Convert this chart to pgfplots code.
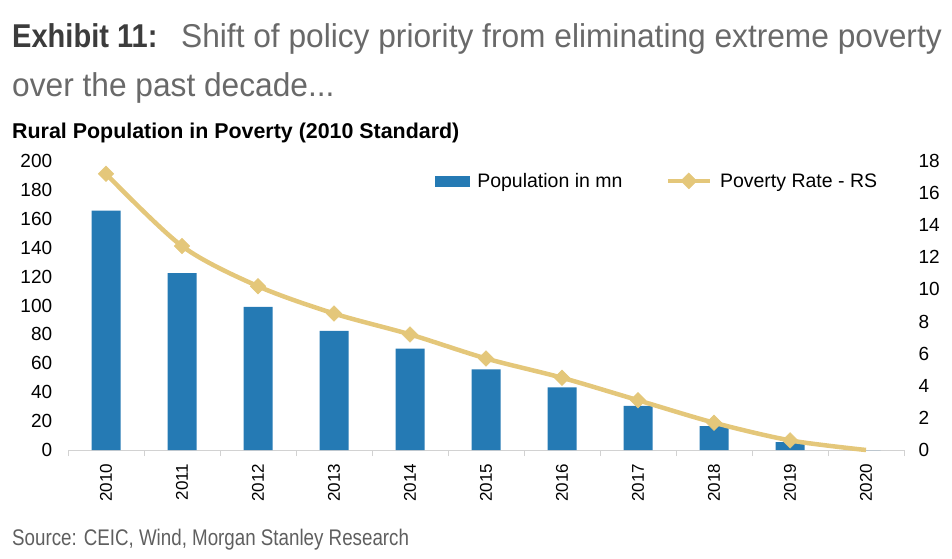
\documentclass[border=0pt]{standalone}
\usepackage{fontspec}
\setmainfont{Liberation Sans}
\newfontfamily\condfont[FakeStretch=0.96]{Liberation Sans}
\newfontfamily\exhfont[FakeStretch=0.88]{Liberation Sans}
\newfontfamily\srcfont[FakeStretch=0.83]{Liberation Sans}
\usepackage{pgfplots}
\pgfplotsset{compat=1.18}
\definecolor{barblue}{RGB}{37,122,180}
\definecolor{gold}{RGB}{228,199,122}
\definecolor{axisgray}{RGB}{210,210,210}
\definecolor{titledark}{RGB}{60,60,60}
\definecolor{titlegray}{RGB}{105,105,105}
\definecolor{srcgray}{RGB}{95,95,95}
\begin{document}
\begin{tikzpicture}[x=1pt,y=1pt]
\useasboundingbox (0,0) rectangle (952,558);
\node[anchor=base west, inner sep=0] at (12,510) {\exhfont\fontsize{33}{38}\selectfont\color{titledark}\bfseries Exhibit 11:};
\node[anchor=base west, inner sep=0] at (181,510) {\condfont\fontsize{33}{38}\selectfont\color{titlegray}Shift of policy priority from eliminating extreme poverty};
\node[anchor=base west, inner sep=0] at (12,461) {\condfont\fontsize{33}{38}\selectfont\color{titlegray}over the past decade...};
\node[anchor=base west, inner sep=0] at (12,420) {\fontsize{21.4}{25}\selectfont\bfseries Rural Population in Poverty (2010 Standard)};
\node[anchor=base west, inner sep=0] at (12,13) {\srcfont\fontsize{22.6}{26}\selectfont\color{srcgray}Source: CEIC, Wind, Morgan Stanley Research};

\begin{axis}[
  at={(68pt,108pt)}, anchor=south west,
  scale only axis, width=836pt, height=289pt,
  xmin=-0.5, xmax=10.5, ymin=0, ymax=200,
  axis x line*=bottom, axis y line*=left,
  x axis line style={draw=axisgray, line width=1pt, -},
  y axis line style={draw=none},
  xtick={0,...,10},
  xticklabels={2010,2011,2012,2013,2014,2015,2016,2017,2018,2019,2020},
  xticklabel style={rotate=90, anchor=east, font=\fontsize{17}{20}\selectfont, xshift=-6pt},
  major x tick style={draw=none},
  minor xtick={-0.5,0.5,...,10.5},
  minor x tick style={draw=axisgray, line width=1pt},
  minor tick length=6pt,
  tick align=outside,
  ytick={0,20,...,200},
  major y tick style={draw=none},
  yticklabel style={font=\fontsize{19}{22}\selectfont, xshift=-8pt},
  /pgf/number format/assume math mode=true,
  ybar, bar width=29pt,
  clip=false,
]
\addplot[fill=barblue, draw=none] coordinates {
  (0,165.7) (1,122.4) (2,99.0) (3,82.5) (4,70.2) (5,55.8) (6,43.4) (7,30.5) (8,16.6) (9,5.5) (10,0)};
\end{axis}

\begin{axis}[
  at={(68pt,108pt)}, anchor=south west,
  scale only axis, width=836pt, height=289pt,
  xmin=-0.5, xmax=10.5, ymin=0, ymax=18,
  axis x line=none, axis y line*=right,
  y axis line style={draw=none},
  ytick={0,2,...,18},
  major y tick style={draw=none},
  yticklabel style={font=\fontsize{19}{22}\selectfont, xshift=11pt},
  /pgf/number format/assume math mode=true,
  clip=false,
  legend style={at={(0.435,0.931)}, anchor=west, draw=none, fill=none,
    font=\fontsize{19.5}{23}\selectfont, legend columns=2,
    /tikz/every odd column/.append style={column sep=6pt},
    /tikz/every even column/.append style={column sep=41pt}},
]
\addlegendimage{legend image code/.code={\fill[barblue] (0pt,-5pt) rectangle (34pt,5pt);}}
\addlegendentry{Population in mn}
\addlegendimage{legend image code/.code={\draw[gold, line width=4.5pt] (0pt,0pt) -- (42pt,0pt); \fill[gold] (21pt,-8pt) -- (29pt,0pt) -- (21pt,8pt) -- (13pt,0pt) -- cycle;}}
\addlegendentry{Poverty Rate - RS}
\addplot[forget plot, gold, line width=4.5pt, smooth, no markers] coordinates {
  (0,17.2) (1,12.7) (2,10.2) (3,8.5) (4,7.2) (5,5.7) (6,4.5) (7,3.1) (8,1.7) (9,0.6) (10,0)};
\addplot[forget plot, only marks, mark=square*, mark size=5.5pt,
  mark options={rotate=45, line width=0.5pt, fill=gold, draw=gold}] coordinates {
  (0,17.2) (1,12.7) (2,10.2) (3,8.5) (4,7.2) (5,5.7) (6,4.5) (7,3.1) (8,1.7) (9,0.6)};
\end{axis}
\end{tikzpicture}
\end{document}
